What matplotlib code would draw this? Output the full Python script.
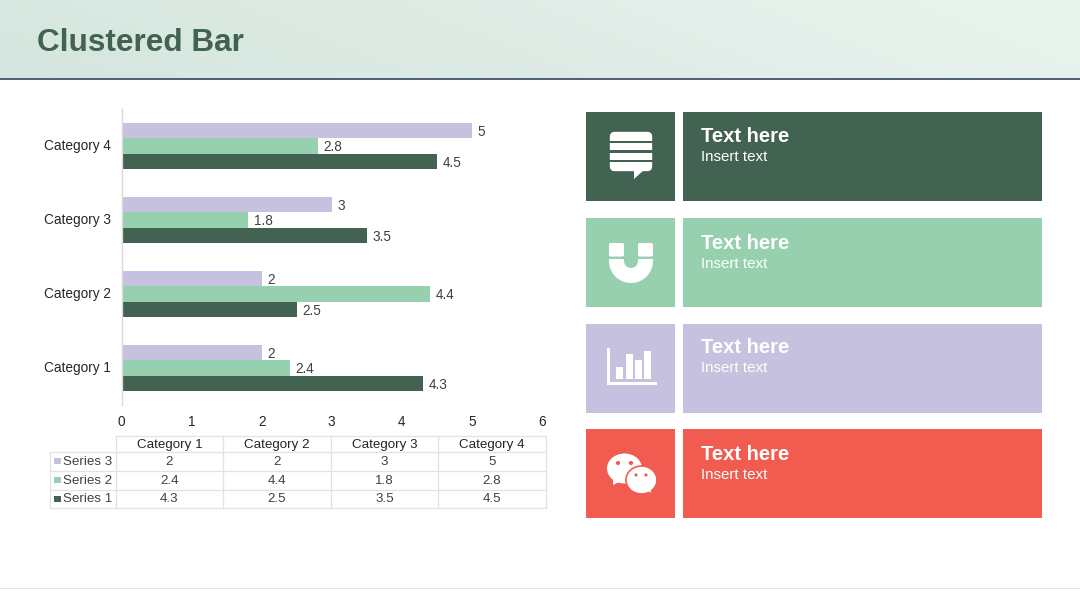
import numpy as np
import matplotlib
matplotlib.use("Agg")
import matplotlib.pyplot as plt
from matplotlib.colors import LinearSegmentedColormap
from matplotlib.patches import Rectangle, FancyBboxPatch, Polygon, Wedge, Ellipse, Circle
from matplotlib.transforms import ScaledTranslation

plt.rcParams['font.family'] = ['Liberation Sans', 'DejaVu Sans']

categories = ["Category 1", "Category 2", "Category 3", "Category 4"]
series_names = ["Series 1", "Series 2", "Series 3"]
series_1 = [4.3, 2.5, 3.5, 4.5]
series_2 = [2.4, 4.4, 1.8, 2.8]
series_3 = [2, 2, 3, 5]
x_ticks = [0, 1, 2, 3, 4, 5, 6]
card_titles = ["Text here", "Text here", "Text here", "Text here"]
card_subtitles = ["Insert text", "Insert text", "Insert text", "Insert text"]

DARK, GREEN, LILAC, RED = "#426352", "#97D0AF", "#C7C1E0", "#F25C50"
TEXT = "#404040"
W, H = 1080, 608

fig = plt.figure(figsize=(W / 100, H / 100), dpi=100, facecolor="white")

# Overlay in pixel coordinates for the slide furniture
bg = fig.add_axes([0, 0, 1, 1])
bg.set_xlim(0, W)
bg.set_ylim(H, 0)
bg.axis("off")

cmap = LinearSegmentedColormap.from_list("hdr", ["#D5E5DE", "#EAF4EF"])
gx, gy_ = np.meshgrid(np.linspace(0, 1, 540), np.linspace(0, 1, 40))
bg.imshow(0.85 * gx + 0.15 * (1 - gy_), extent=[0, W, 78, 0], cmap=cmap,
          aspect="auto", zorder=0, interpolation="bilinear")
bg.set_xlim(0, W)
bg.set_ylim(H, 0)
bg.add_patch(Rectangle((0, 78), W, 2, fc="#4F6279", ec="none", zorder=1))
bg.add_patch(Rectangle((0, 587.5), W, 1.2, fc="#DCE9E5", ec="none", zorder=1))
bg.text(37, 51, "Clustered Bar", fontsize=22.7, fontweight="bold", color=DARK,
        va="baseline", ha="left")

# Cards
card_tops = [112, 218, 324, 429]
card_colors = [DARK, GREEN, LILAC, RED]
title_y = [136.5, 243.5, 347.5, 454.5]
sub_y = [157, 264, 368, 475]
card_h = 89
for top, col, ttl, sub, ty, sy in zip(card_tops, card_colors, card_titles, card_subtitles,
                                      title_y, sub_y):
    bg.add_patch(Rectangle((586, top), 89, card_h, fc=col, ec="none"))
    bg.add_patch(Rectangle((683, top), 359, card_h, fc=col, ec="none"))
    bg.text(701, ty, ttl, fontsize=14.5, fontweight="bold", color="white",
            va="center", ha="left")
    bg.text(701, sy, sub, fontsize=10.9, color="white", va="center", ha="left")

# Speech bubble icon
bg.add_patch(FancyBboxPatch((614, 136), 34, 31, boxstyle="round,pad=0,rounding_size=0.1",
                            fc="white", ec="white", lw=6, joinstyle="round"))
bg.add_patch(Polygon([(634, 170), (634, 179), (644, 170)], fc="white", ec="none"))
for gy in (142, 151.5, 161):
    bg.add_patch(Rectangle((609, gy - 1.2), 44, 2.4, fc=DARK, ec="none", zorder=3))

# Magnet icon
bg.add_patch(FancyBboxPatch((609.5, 243.5), 14, 12.5, boxstyle="round,pad=0,rounding_size=1.5",
                            fc="white", ec="white", lw=0.8))
bg.add_patch(FancyBboxPatch((638.5, 243.5), 14, 12.5, boxstyle="round,pad=0,rounding_size=1.5",
                            fc="white", ec="white", lw=0.8))
bg.add_patch(Wedge((631, 261), 22, 0, 180, width=15, fc="white", ec="none"))
bg.add_patch(Rectangle((609, 259), 15, 2.2, fc="white", ec="none"))
bg.add_patch(Rectangle((638, 259), 15, 2.2, fc="white", ec="none"))

# Bar chart icon
bg.add_patch(Rectangle((607, 348), 3, 37, fc="white", ec="none"))
bg.add_patch(Rectangle((607, 382), 50, 3, fc="white", ec="none"))
for x0, y0 in ((616, 367), (626, 354), (635, 360), (644, 351)):
    bg.add_patch(Rectangle((x0, y0), 6.5, 379 - y0, fc="white", ec="none"))

# WeChat icon
bg.add_patch(Ellipse((624.5, 468.5), 35, 30, fc="white", ec="none"))
bg.add_patch(Polygon([(613, 477), (613, 485), (623, 480)], fc="white", ec="none"))
bg.add_patch(Ellipse((641.5, 480), 31, 28, fc="white", ec=RED, lw=1.2, zorder=3))
bg.add_patch(Polygon([(644, 488), (651, 493), (650, 486)], fc="white", ec="none", zorder=4))
for cx, cy, r in ((618, 463, 2.1), (631, 463, 2.1), (636, 475, 1.6), (646, 475, 1.6)):
    bg.add_patch(Circle((cx, cy), r, fc=RED, ec="none", zorder=5))

# Chart
ax = fig.add_axes([121.5 / W, 1 - 405 / H, 420.5 / W, 296 / H], facecolor="none")
pos = np.arange(len(categories)) + 0.5
bh = 15.5 / 74
series = [series_1, series_2, series_3]
colors = [DARK, GREEN, LILAC]
offsets = [-bh, 0, bh]
for vals, col, off in zip(series, colors, offsets):
    bars = ax.barh(pos + off, vals, height=bh, color=col, linewidth=0)
    anns = ax.bar_label(bars, labels=[f"{v:g}" for v in vals], padding=4.3, fontsize=9.8,
                        color=TEXT)
    for a in anns:
        a.xyann = (4.3, -0.8)
ax.set_xlim(0, 6)
ax.set_ylim(0, 4)
ax.set_xticks(x_ticks)
ax.set_yticks(pos)
ax.set_yticklabels(categories)
ax.tick_params(axis="both", length=0, labelsize=9.8, labelcolor="#262626")
ax.tick_params(axis="x", pad=7)
ax.tick_params(axis="y", pad=7.5)
nudge = ScaledTranslation(0, 0.015, fig.dpi_scale_trans)
for lbl in ax.get_yticklabels():
    lbl.set_transform(lbl.get_transform() + nudge)
for s in ("top", "right", "bottom"):
    ax.spines[s].set_visible(False)
ax.spines["left"].set_color("#D9D9D9")
ax.spines["left"].set_linewidth(1)

# Data table under the chart
col_x = [116, 223, 331, 438, 546]
row_y = [436, 451.5, 470.5, 489.5, 508]
grid = "#E2E2E2"
lw = 0.9
for i, yy in enumerate(row_y):
    bg.plot([116 if i == 0 else 50, 546], [yy, yy], color=grid, lw=lw, zorder=2)
for xx in col_x:
    bg.plot([xx, xx], [436, 508], color=grid, lw=lw, zorder=2)
bg.plot([50, 50], [451.5, 508], color=grid, lw=lw, zorder=2)
bg.set_xlim(0, W)
bg.set_ylim(H, 0)

for j, cat in enumerate(categories):
    bg.text((col_x[j] + col_x[j + 1]) / 2, (row_y[0] + row_y[1]) / 2 + 0.8, cat, fontsize=9.6,
            color="#262626", ha="center", va="center")
for r, idx in enumerate([2, 1, 0]):
    yc = (row_y[r + 1] + row_y[r + 2]) / 2
    bg.add_patch(Rectangle((54, yc - 3.2), 6.5, 6.5, fc=colors[idx], ec="none"))
    bg.text(63, yc + 0.7, series_names[idx], fontsize=9.6, color=TEXT, ha="left", va="center")
    for j, v in enumerate(series[idx]):
        bg.text((col_x[j] + col_x[j + 1]) / 2, yc + 0.7, f"{v:g}", fontsize=9.6, color=TEXT,
                ha="center", va="center")

fig.savefig("out.png", dpi=100, facecolor="white")
